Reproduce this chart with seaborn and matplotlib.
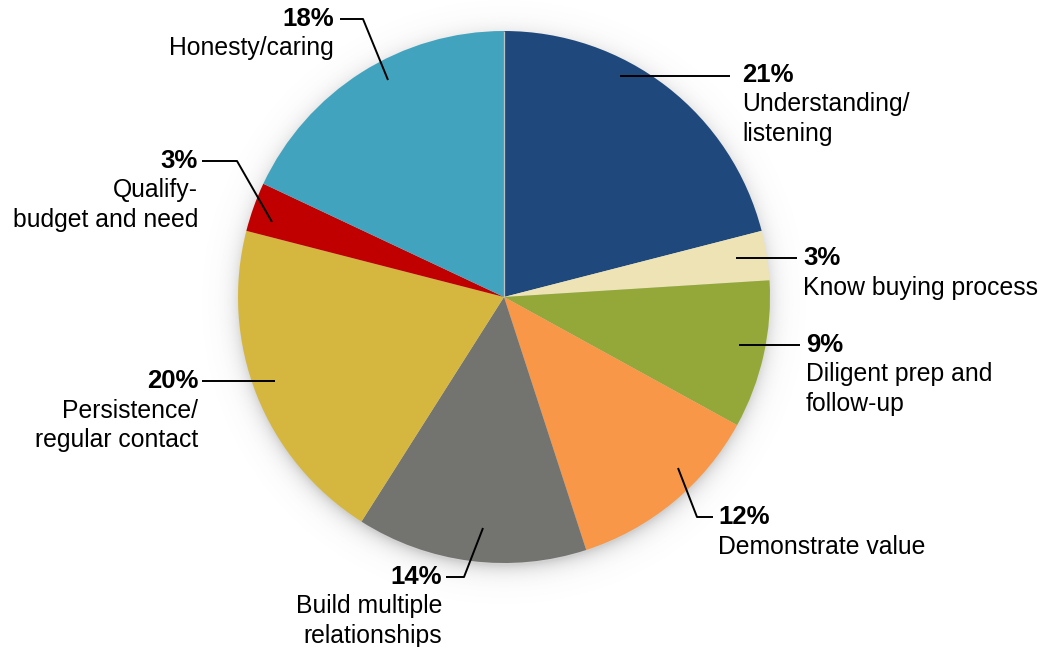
import numpy as np
import matplotlib
matplotlib.use("Agg")
import matplotlib.pyplot as plt
import seaborn as sns

# Share of responses per factor, clockwise from 12 o'clock
categories = [
    "Understanding/\nlistening",
    "Know buying process",
    "Diligent prep and\nfollow-up",
    "Demonstrate value",
    "Build multiple\nrelationships",
    "Persistence/\nregular contact",
    "Qualify-\nbudget and need",
    "Honesty/caring",
]
shares = [21, 3, 9, 12, 14, 20, 3, 18]
colors = ["#1F497C", "#EEE3B5", "#93A838", "#F79747", "#737370",
          "#D5B740", "#C00000", "#42A3BE"]

sns.set_theme(style="white")
plt.rcParams["font.family"] = ["Liberation Sans", "DejaVu Sans"]

W, H = 1050, 647
fig = plt.figure(figsize=(W / 100, H / 100), dpi=100)
ax = fig.add_axes([0, 0, 1, 1])

cx, cy, R = 504, H - 297, 266

# soft drop shadow around the pie
yy, xx = np.mgrid[0:H, 0:W] + 0.5
d = np.hypot(xx - cx, yy - (cy - 5))
alpha = np.where(d > R - 4, 0.30 * np.exp(-np.clip(d - R + 3, 0, None) / 9.0), 0.30)
shadow = np.zeros((H, W, 4))
shadow[..., :3] = 0.4
shadow[..., 3] = alpha
ax.imshow(shadow, extent=(0, W, 0, H), origin="lower", zorder=0, interpolation="bilinear")

ax.pie(shares, colors=colors, startangle=90, counterclock=False,
       center=(cx, cy), radius=R, wedgeprops=dict(linewidth=0, zorder=1))
# hairline separating first and last wedge
ax.plot([cx, cx], [cy, cy + R], color="#b9c3c8", lw=0.9, zorder=2, solid_capstyle="butt")

# label layout in pixel coordinates: text x, first-line y, alignment, leader path
layout = [
    (742, 75, "left", [(620, 76), (730, 76)]),
    (803, 258, "left", [(736, 258), (797, 258)]),
    (806, 345, "left", [(739, 345), (800, 345)]),
    (718, 517, "left", [(678, 468), (697, 517), (713, 517)]),
    (442, 577, "right", [(483, 528), (464, 577), (446, 577)]),
    (198, 381, "right", [(275, 381), (202, 381)]),
    (198, 161, "right", [(272, 222), (237, 161), (202, 161)]),
    (334, 19, "right", [(388, 80), (363, 19), (340, 19)]),
]

fs = 17.8
gap = 29.5
for share, name, (tx, ty, ha, path) in zip(shares, categories, layout):
    px = [p[0] for p in path]
    py = [H - p[1] for p in path]
    ax.plot(px, py, color="black", lw=1.4, zorder=3, solid_capstyle="butt")
    ax.text(tx, H - ty, f"{share}%", ha=ha, va="center", fontsize=18.5,
            fontweight="bold", color="black", zorder=4)
    for i, line in enumerate(name.split("\n")):
        ax.text(tx, H - ty - gap * (i + 1), line, ha=ha, va="center",
                fontsize=fs, color="black", zorder=4)

ax.set_xlim(0, W)
ax.set_ylim(0, H)
ax.set_aspect("equal")
ax.axis("off")

fig.savefig("out.png", dpi=100, facecolor="white")
